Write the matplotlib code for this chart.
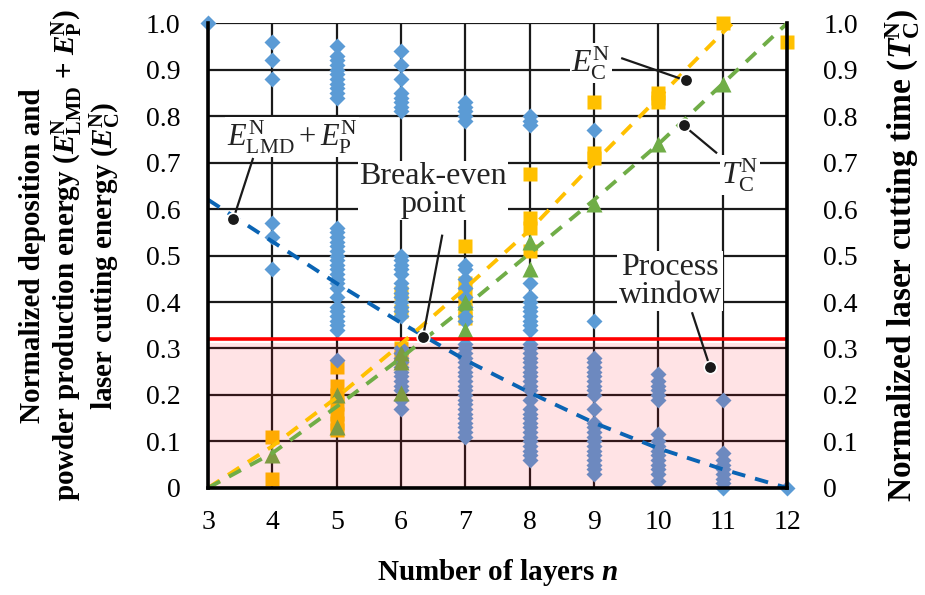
import numpy as np
import matplotlib
matplotlib.use("Agg")
import matplotlib.pyplot as plt
from matplotlib.patches import Rectangle

plt.rcParams["font.family"] = ["Liberation Serif", "DejaVu Serif"]
plt.rcParams["mathtext.fontset"] = "custom"
plt.rcParams["mathtext.rm"] = "Liberation Serif"
plt.rcParams["mathtext.it"] = "Liberation Serif:italic"
plt.rcParams["mathtext.bf"] = "Liberation Serif:bold"
plt.rcParams["mathtext.bfit"] = "Liberation Serif:bold:italic"

# ---- measured data: normalized deposition + powder energy (diamonds) ----
layers_energy = {
    3: [1.0],
    4: [0.96, 0.92, 0.88, 0.57, 0.54, 0.47],
    5: [0.95, 0.93, 0.92, 0.91, 0.90, 0.89, 0.88, 0.87, 0.86, 0.85, 0.84,
        0.56, 0.55, 0.54, 0.53, 0.52, 0.51, 0.50, 0.49, 0.48, 0.47, 0.46,
        0.45, 0.44, 0.43, 0.41, 0.39, 0.38, 0.37, 0.36, 0.35, 0.34, 0.275],
    6: [0.94, 0.91, 0.88, 0.85, 0.84, 0.83, 0.82, 0.81,
        0.50, 0.49, 0.48, 0.47, 0.46, 0.44, 0.43, 0.42, 0.41, 0.40, 0.39,
        0.38, 0.37, 0.30, 0.29, 0.28, 0.27, 0.26, 0.25, 0.24, 0.23, 0.22,
        0.21, 0.19, 0.17],
    7: [0.83, 0.82, 0.81, 0.80, 0.79,
        0.48, 0.47, 0.45, 0.43, 0.41, 0.39, 0.37, 0.36,
        0.31, 0.30, 0.29, 0.28, 0.27, 0.26, 0.25, 0.24, 0.23, 0.22, 0.21,
        0.20, 0.19, 0.18, 0.17, 0.16, 0.15, 0.14, 0.13, 0.12, 0.11],
    8: [0.80, 0.79, 0.78,
        0.44, 0.41, 0.40, 0.39, 0.38, 0.37, 0.36, 0.35, 0.34,
        0.31, 0.30, 0.29, 0.28, 0.27, 0.26, 0.25, 0.24, 0.23, 0.22, 0.21,
        0.19, 0.17, 0.16, 0.15, 0.14, 0.13, 0.12, 0.11, 0.10, 0.09, 0.08,
        0.07, 0.06],
    9: [0.77, 0.36,
        0.28, 0.27, 0.26, 0.25, 0.24, 0.23, 0.22, 0.21, 0.20, 0.17,
        0.14, 0.13, 0.12, 0.11, 0.10, 0.09, 0.08, 0.07, 0.06, 0.05, 0.04,
        0.03],
    10: [0.245, 0.23, 0.22, 0.21, 0.20, 0.19,
         0.115, 0.10, 0.09, 0.08, 0.07, 0.06, 0.05, 0.04, 0.03, 0.015],
    11: [0.19, 0.075, 0.06, 0.05, 0.04, 0.03, 0.02, 0.01, 0.0],
    12: [0.0],
}

# ---- laser cutting energy (squares) ----
layers_cut_energy = {
    4: [0.11, 0.02],
    5: [0.26, 0.22, 0.20, 0.18, 0.16, 0.14, 0.125],
    6: [0.42, 0.38, 0.30, 0.28],
    7: [0.52, 0.44, 0.42, 0.40, 0.38, 0.365],
    8: [0.675, 0.58, 0.56, 0.51],
    9: [0.83, 0.72, 0.71],
    10: [0.85, 0.84, 0.83],
    11: [1.0],
    12: [0.96],
}

# ---- laser cutting time (triangles) ----
layers_cut_time = {
    4: [0.07],
    5: [0.20, 0.13],
    6: [0.29, 0.27, 0.205],
    7: [0.40, 0.34],
    8: [0.53, 0.47],
    9: [0.61],
    10: [0.74],
    11: [0.87],
}

# ---- trend curves ----
trend_energy_x = [3, 4, 5, 6, 7, 8, 9, 10, 11, 12]
trend_energy_y = [0.62, 0.53, 0.44, 0.355, 0.275, 0.205, 0.14, 0.085, 0.04, 0.0]
trend_cut_energy_x = [3, 4, 5, 6, 7, 8, 9, 10, 11, 11.15]
trend_cut_energy_y = [0.0, 0.09, 0.195, 0.31, 0.43, 0.555, 0.70, 0.84, 0.98, 1.0]
trend_cut_time_x = [3, 4, 5, 6, 7, 8, 9, 10, 11, 12]
trend_cut_time_y = [0.0, 0.075, 0.175, 0.28, 0.39, 0.505, 0.62, 0.74, 0.87, 1.0]

process_limit = 0.32
x_ticks = list(range(3, 13))
y_ticks = [0, 0.1, 0.2, 0.3, 0.4, 0.5, 0.6, 0.7, 0.8, 0.9, 1.0]
y_tick_labels = ["0", "0.1", "0.2", "0.3", "0.4", "0.5", "0.6", "0.7", "0.8", "0.9", "1.0"]


def flatten(d):
    xs, ys = [], []
    for k, vals in d.items():
        xs += [k] * len(vals)
        ys += vals
    return np.array(xs, float), np.array(ys, float)


fig = plt.figure(figsize=(9.25, 5.95), dpi=100)
ax = fig.add_axes([0.225, 0.180, 0.626, 0.781])

ax.set_xlim(3, 12)
ax.set_ylim(0, 1.0)
ax.set_xticks(x_ticks)
ax.set_yticks(y_ticks)
ax.set_yticklabels(y_tick_labels)
ax.grid(True, color="#1a1a1a", lw=1.6, zorder=0)
ax.set_axisbelow(True)
ax.tick_params(length=0, labelsize=20)
ax.tick_params(axis="y", pad=20)
ax.tick_params(axis="x", pad=16)

for side in ["left", "bottom", "right"]:
    ax.spines[side].set_linewidth(2.6)
    ax.spines[side].set_color("black")
    ax.spines[side].set_zorder(6)
ax.spines["top"].set_visible(False)

# markers: squares below diamonds, triangles on top
sx, sy = flatten(layers_cut_energy)
ax.plot(sx, sy, ls="none", marker="s", ms=10.5, color="#ffc000",
        mec="none", zorder=2, clip_on=False)
dx, dy = flatten(layers_energy)
ax.plot(dx, dy, ls="none", marker="D", ms=8.5, color="#5b9bd5",
        mec="none", zorder=2.2, clip_on=False)
tx, ty = flatten(layers_cut_time)
ax.plot(tx, ty, ls="none", marker="^", ms=11, color="#70ad47",
        mec="none", zorder=2.4, clip_on=False)

# process window shading
ax.add_patch(Rectangle((3, 0), 9, process_limit - 0.008, facecolor=(1.0, 0.0, 0.08),
                       alpha=0.11, edgecolor="none", zorder=3))
ax.axhline(process_limit, color="#ff0000", lw=2.6, zorder=3.5)

# trend curves
ax.plot(trend_energy_x, trend_energy_y, color="#0a64b4", lw=2.8,
        dashes=(3.5, 2.6), zorder=4, clip_on=False)
ax.plot(trend_cut_energy_x, trend_cut_energy_y, color="#ffc000", lw=2.8,
        dashes=(3.5, 2.6), zorder=4, clip_on=False)
ax.plot(trend_cut_time_x, trend_cut_time_y, color="#70ad47", lw=2.8,
        dashes=(3.5, 2.6), zorder=4, clip_on=False)

# annotations with leader lines
box = dict(facecolor="white", edgecolor="none", pad=1.0)
lead = dict(color="#1a1a1a", lw=1.6, zorder=7, solid_capstyle="butt")


def callout(text, tx_, ty_, lx0, ly0, px_, py_, size=23):
    ax.text(tx_, ty_, text, fontsize=size, ha="center", va="center",
            bbox=box, zorder=5, color="#222222", linespacing=0.95)
    ax.plot([lx0, px_], [ly0, py_], **lead)
    ax.plot([px_], [py_], marker="o", ms=9, color="#1a1a1a", mec="white",
            mew=1.2, zorder=8, clip_on=False)


callout(r"$E_{\mathrm{LMD}}^{\mathrm{N}} + E_{\mathrm{P}}^{\mathrm{N}}$",
        4.31, 0.755, 3.70, 0.71, 3.39, 0.578, size=22)
callout("Break-even\npoint", 6.50, 0.64, 6.64, 0.545, 6.34, 0.325)
callout(r"$E_{\mathrm{C}}^{\mathrm{N}}$", 8.95, 0.914, 9.42, 0.925, 10.42, 0.877)
callout(r"$T_{\mathrm{C}}^{\mathrm{N}}$", 11.27, 0.673, 10.91, 0.72, 10.39, 0.78)
callout("Process\nwindow", 10.18, 0.445, 10.52, 0.378, 10.80, 0.26)

# right axis: normalized laser cutting time
ax2 = ax.twinx()
ax2.set_ylim(0, 1.0)
ax2.set_yticks(y_ticks)
ax2.set_yticklabels(y_tick_labels)
ax2.tick_params(length=0, labelsize=20, pad=26)
for s in ax2.spines.values():
    s.set_visible(False)

ax.set_xlabel(r"Number of layers $\mathbfit{n}$", fontsize=21, fontweight="bold",
              labelpad=16)
ax.set_ylabel("Normalized deposition and\n"
              r"powder production energy ($\mathbfit{E}_{\mathbf{LMD}}^{\mathbf{N}}$ + $\mathbfit{E}_{\mathbf{P}}^{\mathbf{N}}$)"
              "\n"
              r"laser cutting energy ($\mathbfit{E}_{\mathbf{C}}^{\mathbf{N}}$)",
              fontsize=21, fontweight="bold", linespacing=1.12, labelpad=16)
ax2.set_ylabel(r"Normalized laser cutting time ($\mathbfit{T}_{\mathbf{C}}^{\mathbf{N}}$)",
               fontsize=24, fontweight="bold", labelpad=18)

fig.savefig("out.png", dpi=100)
